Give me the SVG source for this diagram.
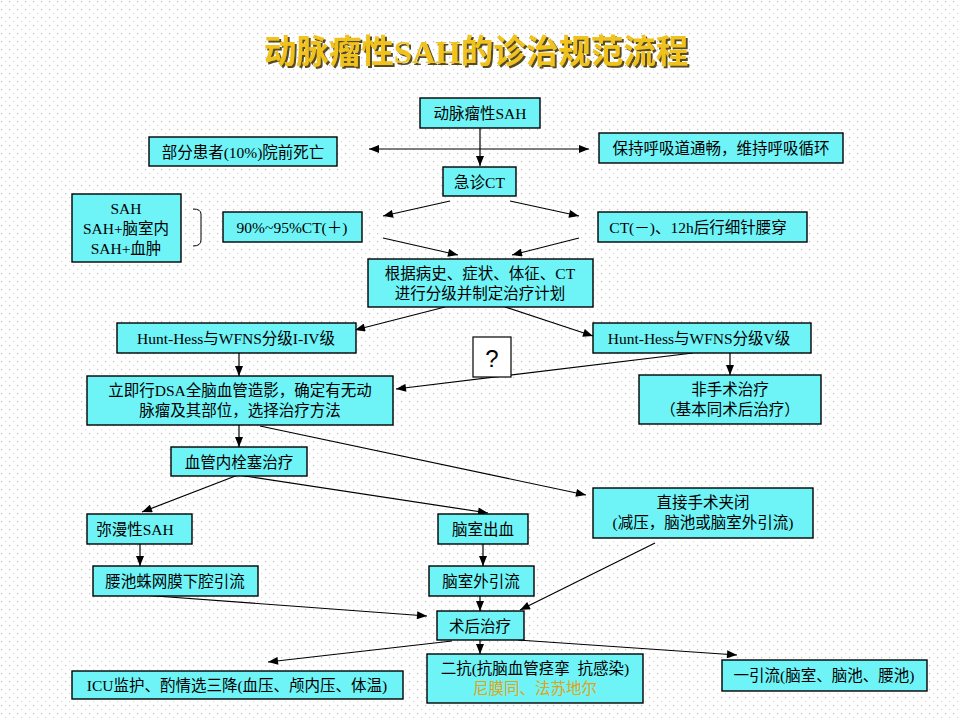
<svg xmlns="http://www.w3.org/2000/svg" width="960" height="720" viewBox="0 0 960 720">
<defs>
<pattern id="dots" width="8" height="8" patternUnits="userSpaceOnUse">
<rect x="1" y="1" width="1.2" height="1.2" fill="#bdbdbd"/>
<rect x="5" y="5" width="1.2" height="1.2" fill="#d8d8d8"/>
</pattern>
<marker id="ah" viewBox="0 0 10 8" refX="10" refY="4" markerWidth="11" markerHeight="8" markerUnits="userSpaceOnUse" orient="auto-start-reverse">
<path d="M0,0 L10,4 L0,8 z" fill="#000"/>
</marker>
<filter id="sh" x="-5%" y="-20%" width="110%" height="140%">
<feDropShadow dx="2" dy="2" stdDeviation="0.6" flood-color="#3a2a00" flood-opacity="0.85"/>
</filter>
</defs>
<style>
.b{fill:#6ef4f7;stroke:#000;stroke-width:1.4}
.t{font-family:"Liberation Serif","Noto Sans CJK SC",serif;font-size:15.5px;fill:#000;text-anchor:middle}
.c line,.c polyline{stroke:#000;stroke-width:1.2;fill:none;marker-end:url(#ah)}
</style>
<rect width="960" height="720" fill="#ffffff"/>
<rect width="960" height="720" fill="url(#dots)"/>

<text x="476" y="63" font-family="Liberation Serif,'Noto Sans CJK SC',serif" font-size="32.5" font-weight="bold" fill="#f2c21a" text-anchor="middle" filter="url(#sh)">动脉瘤性SAH的诊治规范流程</text>

<g class="c" id="connectors">
<line x1="480" y1="128" x2="480" y2="166"/>
<line x1="480" y1="149" x2="369" y2="149"/>
<line x1="480" y1="149" x2="589" y2="149"/>
<line x1="450" y1="201" x2="383" y2="216"/>
<line x1="510" y1="201" x2="579" y2="216"/>
<line x1="383" y1="238" x2="458" y2="255"/>
<line x1="579" y1="238" x2="512" y2="255"/>
<line x1="445" y1="307" x2="355" y2="330"/>
<line x1="505" y1="307" x2="593" y2="336"/>
<line x1="239" y1="353" x2="239" y2="376"/>
<line x1="730" y1="353" x2="730" y2="375"/>
<line x1="693" y1="353" x2="396" y2="389"/>
<line x1="239" y1="425" x2="239" y2="447"/>
<line x1="260" y1="426" x2="586" y2="495"/>
<line x1="238" y1="475" x2="142" y2="512"/>
<line x1="238" y1="475" x2="488" y2="513"/>
<line x1="140" y1="544" x2="140" y2="566"/>
<line x1="483" y1="544" x2="483" y2="566"/>
<line x1="480" y1="596" x2="480" y2="611"/>
<line x1="142" y1="595" x2="427" y2="616"/>
<line x1="655" y1="543" x2="520" y2="610"/>
<line x1="480" y1="640" x2="480" y2="654"/>
<line x1="452" y1="641" x2="268" y2="662"/>
<line x1="518" y1="640" x2="737" y2="655"/>
</g>

<g id="n1"><rect class="b" x="420" y="98" width="120" height="30"/><text class="t" x="480" y="119">动脉瘤性SAH</text></g>
<g id="n2"><rect class="b" x="149" y="137" width="188" height="29"/><text class="t" x="243" y="158">部分患者(10%)院前死亡</text></g>
<g id="n3"><rect class="b" x="599" y="133" width="244" height="30"/><text class="t" x="721" y="154">保持呼吸道通畅，维持呼吸循环</text></g>
<g id="n4"><rect class="b" x="443" y="167" width="73" height="29"/><text class="t" x="479.5" y="188">急诊CT</text></g>
<g id="n5"><rect class="b" x="72" y="194" width="109" height="68"/><text class="t" x="126" y="214">SAH</text><text class="t" x="126" y="234">SAH+脑室内</text><text class="t" x="126" y="254">SAH+血肿</text></g>
<g id="brace"><path d="M193,209 Q201,209 201,214 L201,240 Q201,246 193,246" fill="none" stroke="#000" stroke-width="1"/></g>
<g id="n6"><rect class="b" x="223" y="212" width="139" height="30"/><text class="t" x="292" y="233">90%~95%CT(＋)</text></g>
<g id="n7"><rect class="b" x="598" y="212" width="209" height="30"/><text class="t" x="698" y="233">CT(－)、12h后行细针腰穿</text></g>
<g id="n8"><rect class="b" x="368" y="259" width="225" height="48"/><text class="t" x="480" y="279">根据病史、症状、体征、CT</text><text class="t" x="480" y="299">进行分级并制定治疗计划</text></g>
<g id="n9"><rect class="b" x="117" y="323" width="239" height="30"/><text class="t" x="236" y="344">Hunt-Hess与WFNS分级I-IV级</text></g>
<g id="n10"><rect class="b" x="593" y="323" width="218" height="30"/><text class="t" x="699" y="344">Hunt-Hess与WFNS分级V级</text></g>
<g id="q"><rect x="473" y="337" width="38" height="40" fill="#fff" stroke="#000" stroke-width="1.2"/><text x="492" y="367" font-family="Liberation Sans,sans-serif" font-size="24" text-anchor="middle">?</text></g>
<g id="n11"><rect class="b" x="87" y="376" width="306" height="49"/><text class="t" x="240" y="396">立即行DSA全脑血管造影，确定有无动</text><text class="t" x="240" y="416">脉瘤及其部位，选择治疗方法</text></g>
<g id="n12"><rect class="b" x="639" y="375" width="182" height="49"/><text class="t" x="730" y="395">非手术治疗</text><text class="t" x="730" y="415">（基本同术后治疗）</text></g>
<g id="n13"><rect class="b" x="171" y="447" width="136" height="29"/><text class="t" x="239" y="468">血管内栓塞治疗</text></g>
<g id="n14"><rect class="b" x="593" y="488" width="220" height="50"/><text class="t" x="703" y="508">直接手术夹闭</text><text class="t" x="703" y="528">(减压，脑池或脑室外引流)</text></g>
<g id="n15"><rect class="b" x="87" y="514" width="105" height="30"/><text class="t" x="135" y="535">弥漫性SAH</text></g>
<g id="n16"><rect class="b" x="438" y="514" width="90" height="30"/><text class="t" x="483" y="535">脑室出血</text></g>
<g id="n17"><rect class="b" x="93" y="566" width="165" height="30"/><text class="t" x="175" y="587">腰池蛛网膜下腔引流</text></g>
<g id="n18"><rect class="b" x="429" y="566" width="105" height="30"/><text class="t" x="481" y="587">脑室外引流</text></g>
<g id="n19"><rect class="b" x="437" y="611" width="87" height="29"/><text class="t" x="480" y="632">术后治疗</text></g>
<g id="n20"><rect class="b" x="72" y="671" width="331" height="28"/><text class="t" x="237" y="691">ICU监护、酌情选三降(血压、颅内压、体温)</text></g>
<g id="n21"><rect class="b" x="427" y="654" width="216" height="49"/><text class="t" x="535" y="674" xml:space="preserve">二抗(抗脑血管痉挛  抗感染)</text><text class="t" x="535" y="694" style="fill:#e0a416">尼膜同、法苏地尔</text></g>
<g id="n22"><rect class="b" x="722" y="660" width="205" height="31"/><text class="t" x="824" y="681">一引流(脑室、脑池、腰池)</text></g>
</svg>
